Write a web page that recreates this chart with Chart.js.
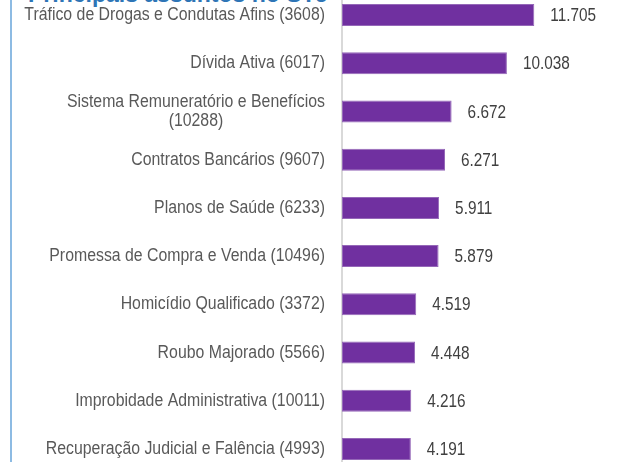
<!DOCTYPE html>
<html>
<head>
<meta charset="utf-8">
<script src="https://cdn.jsdelivr.net/npm/chart.js@4.4.1/dist/chart.umd.min.js"></script>
<style>
    html, body {
        margin: 0;
        padding: 0;
        width: 618px;
        height: 462px;
        overflow: hidden;
        background: #fff;
    }
    .frame {
        position: absolute;
        left: 10px;
        top: 0;
        width: 2px;
        height: 462px;
        background: #8dbbe3;
    }
    .title {
        position: absolute;
        left: 28px;
        top: -18px;
        font: bold 23px "Liberation Sans", Arial, sans-serif;
        line-height: 24px;
        color: #2e75b6;
        white-space: nowrap;
    }
    .wrap {
        position: absolute;
        left: 0;
        top: -20px;
        width: 618px;
        height: 500px;
    }
</style>
</head>
<body>
<div class="frame"></div>
<div class="title">Principais assuntos no STJ</div>
<div class="wrap"><canvas id="cBar"></canvas></div>

<script>
// data
const assuntos = [
    ["Tráfico de Drogas e Condutas Afins (3608)"],
    ["Dívida Ativa (6017)"],
    ["Sistema Remuneratório e Benefícios", "(10288)"],
    ["Contratos Bancários (9607)"],
    ["Planos de Saúde (6233)"],
    ["Promessa de Compra e Venda (10496)"],
    ["Homicídio Qualificado (3372)"],
    ["Roubo Majorado (5566)"],
    ["Improbidade Administrativa (10011)"],
    ["Recuperação Judicial e Falência (4993)"]
];
const processos = [11705, 10038, 6672, 6271, 5911, 5879, 4519, 4448, 4216, 4191];
const xMax = 14000;

// sem Arial Narrow: Liberation Sans comprimida na horizontal
const FONT = '18.7px "Liberation Sans", Arial, sans-serif';
const NARROW_CAT = 0.848;
const NARROW_VAL = 0.82;
const TEXT = "#595959";

// helpers
const fmt = v => String(v).replace(/\B(?=(\d{3})+(?!\d))/g, ".");

function narrowText(ctx, txt, x, y, k) {
    ctx.save();
    ctx.translate(x, y);
    ctx.scale(k, 1);
    ctx.fillText(txt, 0, 0);
    ctx.restore();
}

// labels da esquerda (linhas centradas entre si, bloco alinhado a direita)
const catLabels = {
    id: "catLabels",
    afterDraw(chart) {
        const { ctx } = chart;
        const y = chart.scales.y;
        const right = y.right - 17;
        const lh = 19;
        ctx.save();
        ctx.font = FONT;
        ctx.fillStyle = TEXT;
        ctx.textAlign = "center";
        ctx.textBaseline = "middle";
        assuntos.forEach((lines, i) => {
            const w = Math.max(...lines.map(l => ctx.measureText(l).width)) * NARROW_CAT;
            const cx = right - w / 2;
            const cy = y.getPixelForTick(i);
            const y0 = cy - (lines.length - 1) * lh / 2;
            lines.forEach((l, j) => narrowText(ctx, l, cx, y0 + j * lh, NARROW_CAT));
        });
        ctx.restore();
    }
};

// valores ao lado das barras
const valueLabels = {
    id: "valueLabels",
    afterDatasetsDraw(chart) {
        const { ctx } = chart;
        const meta = chart.getDatasetMeta(0);
        ctx.save();
        ctx.font = FONT;
        ctx.fillStyle = "#404040";
        ctx.textAlign = "left";
        ctx.textBaseline = "middle";
        meta.data.forEach((bar, i) => {
            narrowText(ctx, fmt(processos[i]), bar.x + 16, bar.y + 1, NARROW_VAL);
        });
        ctx.restore();
    }
};

new Chart(document.getElementById("cBar"), {
    type: "bar",
    data: {
        labels: assuntos.map(a => a.join(" ")),
        datasets: [{
            data: processos,
            backgroundColor: "#7030a0",
            borderColor: "#9568b8",
            borderWidth: 1,
            borderSkipped: false,
            categoryPercentage: 1,
            barPercentage: 0.456
        }]
    },
    options: {
        indexAxis: "y",
        responsive: true,
        maintainAspectRatio: false,
        animation: false,
        layout: {
            padding: { top: 11, bottom: 7, right: 46, left: 0 }
        },
        plugins: {
            legend: { display: false },
            tooltip: { enabled: false }
        },
        scales: {
            x: {
                display: false,
                min: 0,
                max: xMax
            },
            y: {
                grid: { display: false },
                border: { display: true, color: "#d9d9d9", width: 2 },
                ticks: { display: false },
                afterFit: s => { s.width = 342; }
            }
        }
    },
    plugins: [catLabels, valueLabels]
});
</script>
</body>
</html>
